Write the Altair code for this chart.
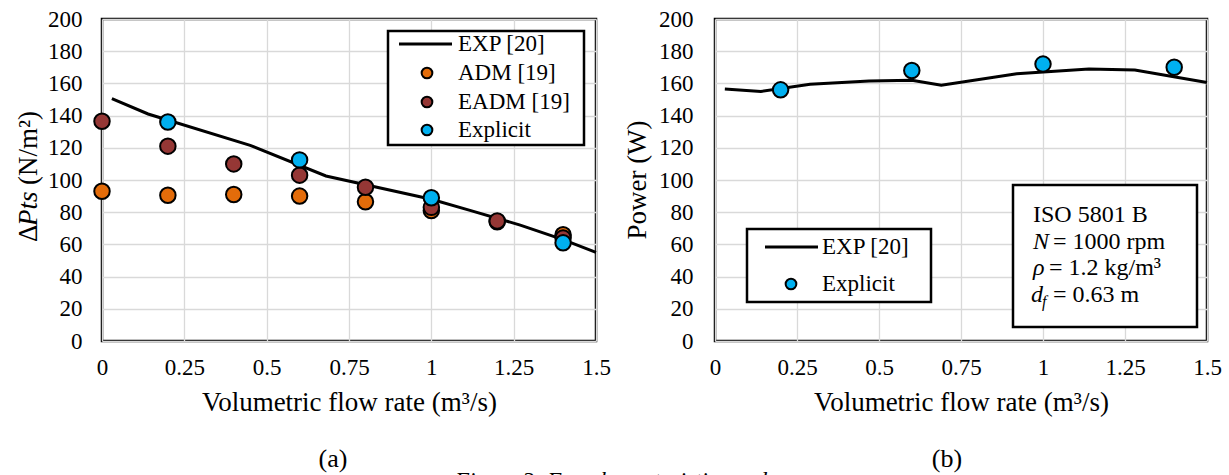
import altair as alt
import pandas as pd

FONT = "Liberation Serif"

# ---------------- data: panel (a) ----------------
exp_a_q = [0.03, 0.14, 0.45, 0.68, 1.0, 1.12, 1.27, 1.4, 1.5]
exp_a_p = [150.5, 141.0, 121.5, 102.5, 88.0, 81.0, 72.0, 63.0, 55.0]
sim_a_q = [0, 0.2, 0.4, 0.6, 0.8, 1.0, 1.2, 1.4]
adm_p = [93, 90.5, 91, 90, 86.5, 81, 74, 66]
eadm_p = [136.5, 121, 110, 103, 95.5, 83, 74.5, 64]
expl_a_q = [0.2, 0.6, 1.0, 1.4]
expl_a_p = [136, 112.5, 89, 61]

# ---------------- data: panel (b) ----------------
exp_b_q = [0.03, 0.14, 0.29, 0.47, 0.6, 0.69, 0.92, 1.14, 1.28, 1.5]
exp_b_w = [156.5, 155, 159.5, 161.5, 162, 158.8, 166, 169, 168.3, 160.5]
expl_b_q = [0.2, 0.6, 1.0, 1.4]
expl_b_w = [156, 168, 172, 170]

x_ticks = [0, 0.25, 0.5, 0.75, 1, 1.25, 1.5]
y_ticks = list(range(0, 201, 20))

C_ADM = "#E36C0A"
C_EADM = "#953735"
C_EXPL = "#00B0F0"

W, H = 494, 322
one = pd.DataFrame({"a": [0]})


def df(q, v):
    return pd.DataFrame({"q": q, "v": v})


def enc_x():
    return alt.X("q:Q", scale=alt.Scale(domain=[0, 1.5], nice=False, zero=False),
                 axis=alt.Axis(values=x_ticks, format=".3~g",
                               title="Volumetric flow rate (m³/s)"))


def enc_y(pad):
    return alt.Y("v:Q", scale=alt.Scale(domain=[0, 200], nice=False),
                 axis=alt.Axis(values=y_ticks, title=None, labelPadding=pad))


def txt(text, x, y, size=23, align="left", baseline="middle", style="normal", angle=0):
    kw = dict(text=text, align=align, baseline=baseline, font=FONT, fontSize=size,
              fontStyle=style, color="black")
    if angle:
        kw["angle"] = angle
    return alt.Chart(one).mark_text(**kw).encode(x=alt.value(x), y=alt.value(y))


def box(x1, x2, y1, y2):
    return alt.Chart(one).mark_rect(fill="white", stroke="black", strokeWidth=2.5).encode(
        x=alt.value(x1), x2=alt.value(x2), y=alt.value(y1), y2=alt.value(y2))


def sym_line(x1, x2, y):
    return alt.Chart(one).mark_rule(color="black", strokeWidth=3).encode(
        x=alt.value(x1), x2=alt.value(x2), y=alt.value(y))


def sym_pt(x, y, color):
    return alt.Chart(one).mark_circle(size=115, color=color, opacity=1, stroke="black",
                                      strokeWidth=2).encode(x=alt.value(x), y=alt.value(y))


def line(d, pad):
    return alt.Chart(d).mark_line(color="black", strokeWidth=3).encode(x=enc_x(), y=enc_y(pad))


def pts(d, color, pad):
    return alt.Chart(d).mark_circle(size=240, color=color, opacity=1, stroke="black",
                                    strokeWidth=2).encode(x=enc_x(), y=enc_y(pad))


# ---------------- panel (a) ----------------
pa = 20
left = alt.layer(
    line(df(exp_a_q, exp_a_p), pa),
    pts(df(sim_a_q, adm_p), C_ADM, pa),
    pts(df(sim_a_q, eadm_p), C_EADM, pa),
    pts(df(expl_a_q, expl_a_p), C_EXPL, pa),
    # legend
    box(286, 482, 12, 126),
    sym_line(297, 350, 25),
    txt("EXP [20]", 356, 25),
    sym_pt(325, 54, C_ADM),
    txt("ADM [19]", 356, 54),
    sym_pt(325, 83, C_EADM),
    txt("EADM [19]", 356, 83),
    sym_pt(325, 111, C_EXPL),
    txt("Explicit", 356, 111),
    # y title with italic part
    txt("Δ", -73, 223, size=27, angle=270),
    txt("Pts", -73, 207, size=27, style="italic", angle=270),
    txt("(N/m²)", -73, 166, size=27, angle=270),
    # captions
    txt("(a)", 231, 440, size=26, align="center"),
    txt("Figure 3: Fan characteristics and", 509, 451, size=23, align="center",
        baseline="top", style="italic"),
).properties(width=W, height=H)

# ---------------- panel (b) ----------------
pb = 22
right = alt.layer(
    line(df(exp_b_q, exp_b_w), pb),
    pts(df(expl_b_q, expl_b_w), C_EXPL, pb),
    # legend
    box(32, 216, 210, 283),
    sym_line(50, 103, 228),
    txt("EXP [20]", 107, 228),
    sym_pt(76, 265, C_EXPL),
    txt("Explicit", 107, 265),
    # info box
    box(298, 482, 166, 308),
    txt("ISO 5801 B", 318, 196, size=24),
    txt("N", 318, 223, size=24, style="italic"),
    txt("= 1000 rpm", 338, 223, size=24),
    txt("ρ", 318, 249, size=24, style="italic"),
    txt("= 1.2 kg/m³", 334, 249, size=24),
    txt("d", 316, 276, size=24, style="italic"),
    txt("f", 327, 283, size=16, style="italic"),
    txt("= 0.63 m", 338, 276, size=24),
    # y title
    txt("Power (W)", -77, 161, size=27, align="center", angle=270),
    txt("(b)", 232, 440, size=26, align="center"),
).properties(width=492, height=H)

chart = alt.hconcat(left, right, spacing=119, bounds="flush").properties(
    padding={"left": 13, "top": 6, "right": 5, "bottom": 0}
).configure_view(stroke="black", strokeWidth=2.5).configure_axis(
    labelFont=FONT, labelFontSize=23, labelColor="black",
    titleFont=FONT, titleFontSize=27, titleFontWeight="normal", titleColor="black",
    grid=True, gridColor="#D9D9D9", gridWidth=1.3, domain=False, ticks=False,
    labelFlush=False, labelOverlap=False,
).configure_axisX(labelPadding=15, titlePadding=10)

chart.save("out.html", embed_options={"renderer": "svg", "actions": False})
